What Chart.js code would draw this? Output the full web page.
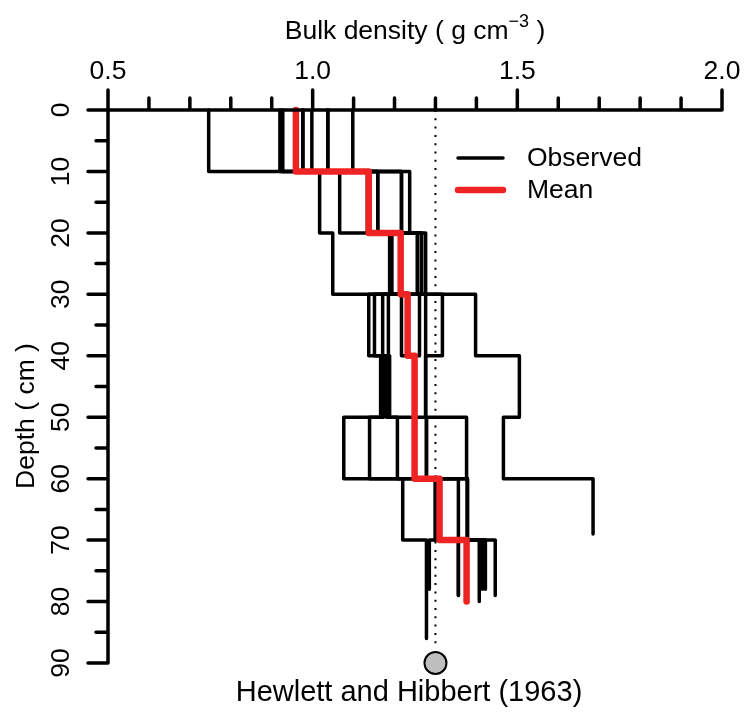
<!DOCTYPE html>
<html>
<head>
<meta charset="utf-8">
<script src="https://cdn.jsdelivr.net/npm/chart.js@4.4.0/dist/chart.umd.min.js"></script>
<style>
html,body{margin:0;padding:0;background:#fff;}
canvas{display:block;}
</style>
</head>
<body>
<canvas id="c" width="746" height="712"></canvas>
<script>
// ---- data ----
const layerTops = [0, 10, 20, 30, 40, 50, 60, 70];
const profile1 = [0.746, 1.237, 1.276, 1.276, 1.276, 1.376, 1.378, 1.446];
const profile2 = [0.920, 1.017, 1.049, 1.398, 1.505, 1.466, 1.685];
const profile3 = [0.927, 1.066, 1.188, 1.137, 1.166, 1.076, 1.220, 1.278];
const profile4 = [0.976, 1.134, 1.193, 1.151, 1.173, 1.139, 1.300, 1.356];
const profile5 = [0.998, 1.159, 1.256, 1.171, 1.180, 1.207, 1.356, 1.407];
const profile6 = [1.037, 1.217, 1.266, 1.185, 1.188, 1.278, 1.378, 1.422];
const profile7 = [1.098, 1.159, 1.256, 1.317, 1.276, 1.278, 1.378, 1.415];
const profile8 = [0.976, 1.134, 1.193, 1.217, 1.249, 1.249, 1.300, 1.285];
const profile9 = [1.037, 1.217, 1.266, 1.261, 1.249, 1.249, 1.300, 1.356];
const profiles = [profile1, profile2, profile3, profile4, profile5, profile6, profile7, profile8, profile9];
const profileBottoms = [79, 69, 86, 79, 80, 78, 78, 78, 79];
const meanValues = [0.959, 1.137, 1.215, 1.232, 1.249, 1.249, 1.310, 1.376];
const meanBottom = 80;
const hhDensity = 1.30;
const hhLineBottom = 87.6;
const hhDepth = 90;
const xTickMajor = [0.5, 1.0, 1.5, 2.0];
const xTickLabels = ["0.5", "1.0", "1.5", "2.0"];
const xTickMinor = [0.6, 0.7, 0.8, 0.9, 1.1, 1.2, 1.3, 1.4, 1.6, 1.7, 1.8, 1.9];
const yTickMajor = [0, 10, 20, 30, 40, 50, 60, 70, 80, 90];
const yTickMinor = [5, 15, 25, 35, 45, 55, 65, 75, 85];
const legendLabels = ["Observed", "Mean"];

// ---- build step profiles ----
function steps(vals, bottom) {
  const pts = [];
  vals.forEach((v, k) => {
    const top = layerTops[k];
    const bot = (k === vals.length - 1) ? bottom : layerTops[k] + 10;
    pts.push({x: v, y: top});
    pts.push({x: v, y: bot});
  });
  return pts;
}

const FONT = '"Liberation Sans", Arial, Helvetica, sans-serif';
const RED = '#ee2424';
const FS = 26.5;
const LW = 3.5;

const datasets = [];
datasets.push({
  label: 'Mean', data: steps(meanValues, meanBottom), showLine: true,
  borderColor: RED, borderWidth: 6.5, pointRadius: 0, fill: false,
  borderCapStyle: 'round', borderJoinStyle: 'round', clip: false, order: 0
});
profiles.forEach((p, i) => {
  datasets.push({
    label: 'Observed', data: steps(p, profileBottoms[i]), showLine: true,
    borderColor: '#000', borderWidth: LW, pointRadius: 0, fill: false,
    borderCapStyle: 'round', borderJoinStyle: 'round', clip: false, order: 1
  });
});
datasets.push({
  label: 'HH line', data: [{x: hhDensity, y: 0}, {x: hhDensity, y: hhLineBottom}], showLine: true,
  borderColor: '#000', borderWidth: 2, borderDash: [2, 6.3], pointRadius: 0,
  borderCapStyle: 'butt', clip: false, order: 2
});
datasets.push({
  label: 'HH point', data: [{x: hhDensity, y: hhDepth}], showLine: false,
  pointRadius: 11, pointBackgroundColor: '#bebebe', pointBorderColor: '#000',
  pointBorderWidth: 2, clip: false, order: -1
});

const axesPlugin = {
  id: 'rAxes',
  afterDraw(chart) {
    const ctx = chart.ctx;
    const xs = chart.scales.x, ys = chart.scales.y;
    const y0 = ys.getPixelForValue(0);
    const x0 = xs.getPixelForValue(0.5);
    ctx.save();
    ctx.strokeStyle = '#000';
    ctx.fillStyle = '#000';
    ctx.lineWidth = LW;
    ctx.lineCap = 'round';
    // x axis (top)
    ctx.beginPath();
    ctx.moveTo(xs.getPixelForValue(xTickMajor[0]), y0);
    ctx.lineTo(xs.getPixelForValue(xTickMajor[xTickMajor.length - 1]), y0);
    xTickMajor.forEach(v => { const px = xs.getPixelForValue(v); ctx.moveTo(px, y0); ctx.lineTo(px, y0 - 20); });
    xTickMinor.forEach(v => { const px = xs.getPixelForValue(v); ctx.moveTo(px, y0); ctx.lineTo(px, y0 - 12); });
    ctx.stroke();
    // y axis (left)
    ctx.beginPath();
    ctx.moveTo(x0, ys.getPixelForValue(yTickMajor[0]));
    ctx.lineTo(x0, ys.getPixelForValue(yTickMajor[yTickMajor.length - 1]));
    yTickMajor.forEach(v => { const py = ys.getPixelForValue(v); ctx.moveTo(x0, py); ctx.lineTo(x0 - 20, py); });
    yTickMinor.forEach(v => { const py = ys.getPixelForValue(v); ctx.moveTo(x0, py); ctx.lineTo(x0 - 12, py); });
    ctx.stroke();

    // tick labels
    ctx.font = FS + 'px ' + FONT;
    ctx.textAlign = 'center';
    ctx.textBaseline = 'middle';
    xTickMajor.forEach((v, i) => ctx.fillText(xTickLabels[i], xs.getPixelForValue(v), 72));
    yTickMajor.forEach(v => {
      ctx.save();
      ctx.translate(62, ys.getPixelForValue(v));
      ctx.rotate(-Math.PI / 2);
      ctx.fillText(String(v), 0, 0);
      ctx.restore();
    });

    // y title
    ctx.save();
    ctx.translate(27, 416);
    ctx.rotate(-Math.PI / 2);
    ctx.fillText('Depth ( cm )', 0, 0);
    ctx.restore();

    // x title with superscript
    const partA = 'Bulk density ( g cm', sup = '\u22123', partB = ' )';
    ctx.font = FS + 'px ' + FONT;
    const wA = ctx.measureText(partA).width, wB = ctx.measureText(partB).width;
    ctx.font = '18px ' + FONT;
    const wS = ctx.measureText(sup).width;
    const total = wA + wS + wB;
    let sx = (xs.left + xs.right) / 2 - total / 2;
    ctx.textAlign = 'left';
    ctx.font = FS + 'px ' + FONT;
    ctx.fillText(partA, sx, 32);
    ctx.font = '18px ' + FONT;
    ctx.fillText(sup, sx + wA, 22);
    ctx.font = FS + 'px ' + FONT;
    ctx.fillText(partB, sx + wA + wS, 32);

    // bottom note
    ctx.textAlign = 'center';
    ctx.font = '29px ' + FONT;
    ctx.fillText('Hewlett and Hibbert (1963)', 409, 693);

    // legend
    ctx.lineCap = 'round';
    ctx.lineWidth = LW;
    ctx.strokeStyle = '#000';
    ctx.beginPath(); ctx.moveTo(458, 158); ctx.lineTo(503, 158); ctx.stroke();
    ctx.lineWidth = 6.5;
    ctx.strokeStyle = RED;
    ctx.beginPath(); ctx.moveTo(458, 190); ctx.lineTo(503, 190); ctx.stroke();
    ctx.textAlign = 'left';
    ctx.fillStyle = '#000';
    ctx.font = FS + 'px ' + FONT;
    ctx.fillText(legendLabels[0], 527, 159);
    ctx.fillText(legendLabels[1], 527, 191);
    ctx.restore();
  }
};

new Chart(document.getElementById('c'), {
  type: 'scatter',
  data: { datasets },
  options: {
    responsive: false,
    devicePixelRatio: 1,
    animation: false,
    layout: { padding: { left: 108, right: 24, top: 110, bottom: 49 } },
    plugins: { legend: { display: false }, tooltip: { enabled: false } },
    scales: {
      x: { type: 'linear', min: 0.5, max: 2.0, display: false },
      y: { type: 'linear', min: 0, max: 90, reverse: true, display: false }
    }
  },
  plugins: [axesPlugin]
});
</script>
</body>
</html>
